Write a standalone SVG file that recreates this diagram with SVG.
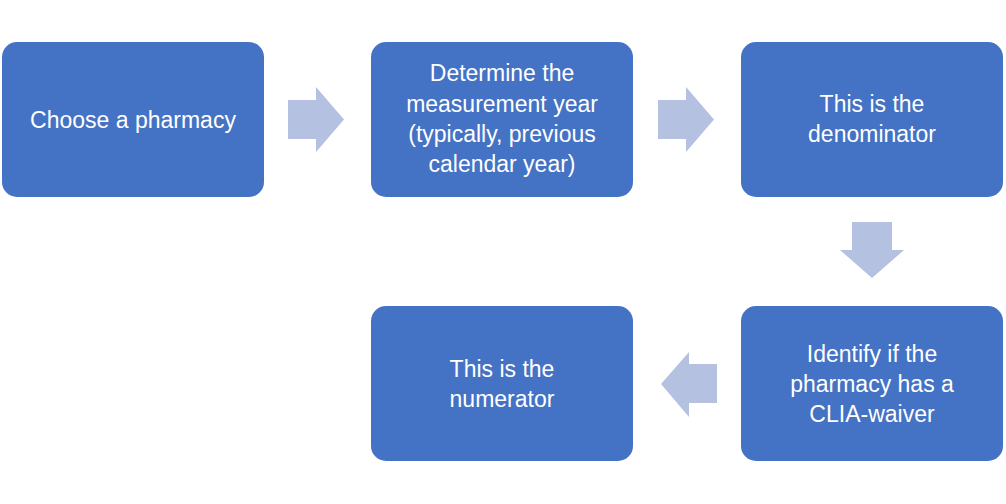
<svg xmlns="http://www.w3.org/2000/svg" width="1006" height="504" viewBox="0 0 1006 504">
<style>
.box{fill:#4472C4;}
.arr{fill:#B4C1E1;}
text{font-family:"Liberation Sans",Arial,sans-serif;font-size:23px;fill:#FFFFFF;text-anchor:middle;}
</style>
<rect width="1006" height="504" fill="#FFFFFF"/>
<g id="connectors">
<polygon class="arr" points="288,100 316,100 316,87 344,119.5 316,152 316,139 288,139"/>
<polygon class="arr" points="658,100 686,100 686,87 714,119.5 686,152 686,139 658,139"/>
<polygon class="arr" points="852,222 892,222 892,250 904,250 872,278 840,250 852,250"/>
<polygon class="arr" points="717,364 689,364 689,352 661,384 689,417 689,403 717,403"/>
</g>
<g id="node1"><rect class="box" x="2" y="42" width="262" height="155" rx="15"/><text x="133" y="128">Choose a pharmacy</text></g>
<g id="node2"><rect class="box" x="371" y="42" width="262" height="155" rx="15"/><text x="502" y="81">Determine the</text><text x="502" y="112">measurement year</text><text x="502" y="142">(typically, previous</text><text x="502" y="172">calendar year)</text></g>
<g id="node3"><rect class="box" x="741" y="42" width="262" height="155" rx="15"/><text x="872" y="112">This is the</text><text x="872" y="142">denominator</text></g>
<g id="node4"><rect class="box" x="741" y="306" width="262" height="155" rx="15"/><text x="872" y="362">Identify if the</text><text x="872" y="392">pharmacy has a</text><text x="872" y="422">CLIA-waiver</text></g>
<g id="node5"><rect class="box" x="371" y="306" width="262" height="155" rx="15"/><text x="502" y="377">This is the</text><text x="502" y="407">numerator</text></g>
</svg>
